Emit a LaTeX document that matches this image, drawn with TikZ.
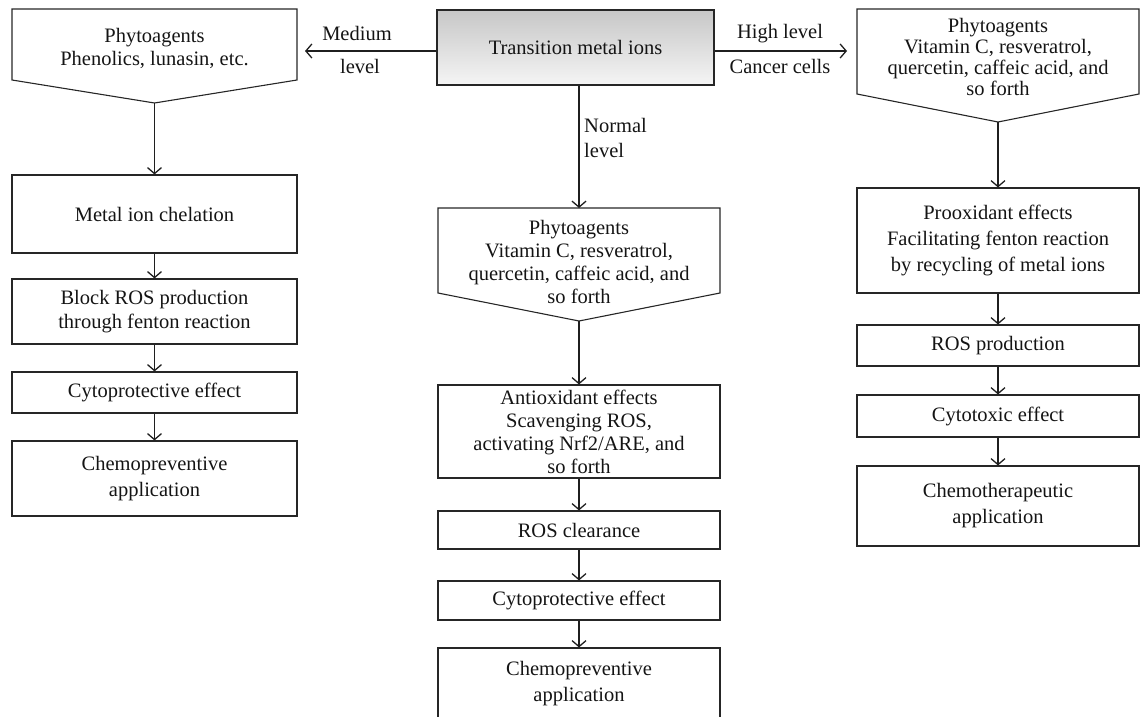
\documentclass[tikz,border=0pt]{standalone}
\usepackage{fontspec}
\setmainfont{Liberation Serif}
\usetikzlibrary{arrows.meta}
\newcommand\myfs{\fontsize{20.5}{23}\selectfont}
\begin{document}
\begin{tikzpicture}[x=1pt,y=-1pt,
  box/.style={draw=black!85, line width=1.1pt, align=center, inner sep=0pt, font=\myfs, text=black!92},
  lbl/.style={align=center, inner sep=0pt, font=\myfs, text=black!92},
  shp/.style={draw=black!85, line width=1.1pt},
  arr/.style={draw=black!88, line width=1.7pt, -{Straight Barb[length=6pt,width=14pt,line width=1.3pt]}}
]
\useasboundingbox (0,0) rectangle (1140,717);

% top box
\node[box, top color=black!22, bottom color=black!4, minimum width=277pt, minimum height=75pt] (T) at (575.5,47.5) {Transition metal ions};

% left column
\draw[shp] (12,9) -- (297,9) -- (297,80) -- (154.5,103) -- (12,80) -- cycle;
\node[lbl] (LPt) at (154.5,48) {Phytoagents\\Phenolics, lunasin, etc.};
\coordinate (LPtip) at (154.5,103);
\coordinate (LPin) at (305,51);
\node[box, minimum width=285pt, minimum height=78pt] (L1) at (154.5,214) {Metal ion chelation};
\node[box, minimum width=285pt, minimum height=65pt, font=\fontsize{20.5}{24}\selectfont] (L2) at (154.5,311.5) {Block ROS production\\through fenton reaction};
\node[box, minimum width=285pt, minimum height=41pt] (L3) at (154.5,392.5) {Cytoprotective effect};
\node[box, minimum width=285pt, minimum height=75pt, font=\fontsize{20.5}{26}\selectfont] (L4) at (154.5,478.5) {Chemopreventive\\application};

% center column
\draw[shp] (438,208) -- (720,208) -- (720,293) -- (579,321) -- (438,293) -- cycle;
\node[lbl] (CPt) at (579,262) {Phytoagents\\Vitamin C, resveratrol,\\quercetin, caffeic acid, and\\so forth};
\coordinate (CPtop) at (579,208);
\coordinate (CPtip) at (579,321);
\node[box, minimum width=282pt, minimum height=93pt] (C1) at (579,431.5) {Antioxidant effects\\Scavenging ROS,\\activating Nrf2/ARE, and\\so forth};
\node[box, minimum width=282pt, minimum height=38pt] (C2) at (579,530) {ROS clearance};
\node[box, minimum width=282pt, minimum height=39pt] (C3) at (579,600.5) {Cytoprotective effect};
\node[box, minimum width=282pt, minimum height=72pt, font=\fontsize{20.5}{26}\selectfont] (C4) at (579,684) {Chemopreventive\\application};

% right column
\draw[shp] (857,9) -- (1139,9) -- (1139,94) -- (998,122) -- (857,94) -- cycle;
\node[lbl, font=\fontsize{20.5}{21}\selectfont] (RPt) at (998,56.5) {Phytoagents\\Vitamin C, resveratrol,\\quercetin, caffeic acid, and\\so forth};
\coordinate (RPtip) at (998,122);
\coordinate (RPin) at (847,51);
\node[box, minimum width=282pt, minimum height=105pt, font=\fontsize{20.5}{26}\selectfont] (R1) at (998,240.5) {Prooxidant effects\\Facilitating fenton reaction\\by recycling of metal ions};
\node[box, minimum width=282pt, minimum height=41pt] (R2) at (998,345.5) {ROS production};
\node[box, minimum width=282pt, minimum height=42pt] (R3) at (998,416) {Cytotoxic effect};
\node[box, minimum width=282pt, minimum height=80pt, font=\fontsize{20.5}{26}\selectfont] (R4) at (998,506) {Chemotherapeutic\\application};

% labels
\node[lbl] (medium) at (357,33) {Medium};
\node[lbl] (mlevel) at (360,66) {level};
\node[lbl] (high) at (780,34) {High level};
\node[lbl] (cancer) at (780,66) {Cancer cells};
\node[lbl, anchor=west, align=left, font=\fontsize{20.5}{25}\selectfont] (normal) at (584,138) {Normal\\level};

% connectors
\draw[arr] (LPin -| T.west) -- (LPin);
\draw[arr] (RPin -| T.east) -- (RPin);
\draw[arr] (CPtop |- T.south) -- (CPtop);

\draw[arr] (LPtip) -- (L1.north);
\draw[arr] (L1.south) -- (L2.north);
\draw[arr] (L2.south) -- (L3.north);
\draw[arr] (L3.south) -- (L4.north);

\draw[arr] (CPtip) -- (C1.north);
\draw[arr] (C1.south) -- (C2.north);
\draw[arr] (C2.south) -- (C3.north);
\draw[arr] (C3.south) -- (C4.north);

\draw[arr] (RPtip) -- (R1.north);
\draw[arr] (R1.south) -- (R2.north);
\draw[arr] (R2.south) -- (R3.north);
\draw[arr] (R3.south) -- (R4.north);
\end{tikzpicture}
\end{document}
